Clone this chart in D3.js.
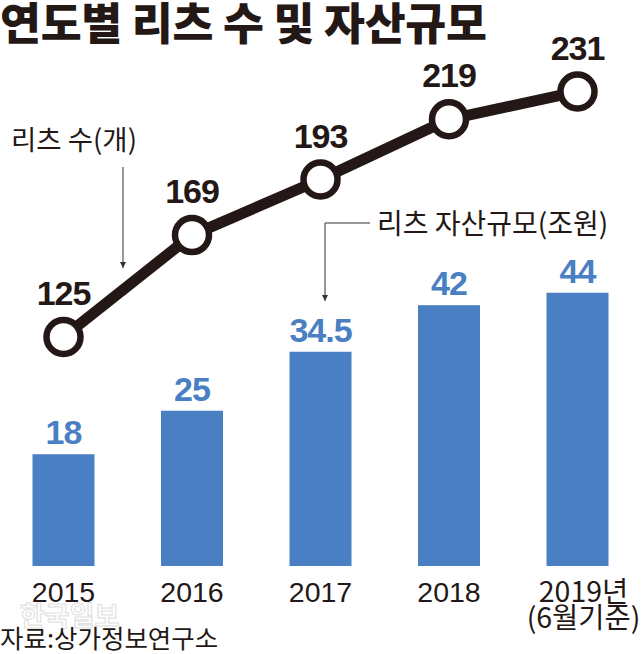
<!DOCTYPE html>
<html><head><meta charset="utf-8">
<script src="https://cdn.jsdelivr.net/npm/d3@7"></script>
<style>
html,body{margin:0;padding:0;background:#fff;}
svg{display:block;}
</style></head>
<body>
<svg id="chart" width="641" height="654"></svg>
<script>
const years = ["2015","2016","2017","2018","2019"];
const yearLabels = [["2015"],["2016"],["2017"],["2018"],["2019년","(6월기준)"]];
const reitCounts = [125, 169, 193, 219, 231];
const assetSizes = [18, 25, 34.5, 42, 44];
const assetLabels = ["18","25","34.5","42","44"];
const title = "연도별 리츠 수 및 자산규모";
const countLabel = "리츠 수(개)";
const assetLabel = "리츠 자산규모(조원)";
const source = "자료:상가정보연구소";
const watermark = "한국일보";

const W = 641, H = 654;
const dark = "#231815", blue = "#4a7fc3";
const kr = "'Noto Sans CJK KR','Noto Sans',sans-serif";
const num = "'Liberation Sans',Arial,sans-serif";

const svg = d3.select("#chart");

const x = d3.scalePoint().domain(years).range([63.5, 577.5]);
const yBar = d3.scaleLinear().domain([0, 50]).range([566, 255.5]);
const yLine = d3.scaleLinear().domain([0, 250]).range([626.5, 47.5]);
const barW = 62;

// title
svg.append("text").attr("x", 0).attr("y", 40)
  .attr("font-family", kr).attr("font-weight", 900).attr("font-size", 44.5)
  .attr("fill", dark).attr("letter-spacing", -0.3).text(title);

// bars
svg.append("g").selectAll("rect").data(years).join("rect")
  .attr("x", d => x(d) - barW/2)
  .attr("y", (d,i) => yBar(assetSizes[i]))
  .attr("width", barW)
  .attr("height", (d,i) => yBar(0) - yBar(assetSizes[i]))
  .attr("fill", blue);

svg.append("g").selectAll("text").data(years).join("text")
  .attr("x", d => x(d))
  .attr("y", (d,i) => yBar(assetSizes[i]) - 10)
  .attr("text-anchor", "middle")
  .attr("font-family", num).attr("font-weight", 700).attr("font-size", 34)
  .attr("letter-spacing", -1)
  .attr("fill", blue)
  .text((d,i) => assetLabels[i]);

// line
const line = d3.line().x((d,i) => x(years[i])).y(d => yLine(d));
svg.append("path").datum(reitCounts).attr("d", line)
  .attr("fill", "none").attr("stroke", dark).attr("stroke-width", 11)
  .attr("stroke-linejoin", "round");

svg.append("g").selectAll("circle").data(reitCounts).join("circle")
  .attr("cx", (d,i) => x(years[i])).attr("cy", d => yLine(d)).attr("r", 17)
  .attr("fill", "#fff").attr("stroke", dark).attr("stroke-width", 6.5);

svg.append("g").selectAll("text").data(reitCounts).join("text")
  .attr("x", (d,i) => x(years[i]))
  .attr("y", d => yLine(d) - 32)
  .attr("text-anchor", "middle")
  .attr("font-family", num).attr("font-weight", 700).attr("font-size", 34)
  .attr("letter-spacing", -1)
  .attr("fill", dark)
  .text(d => d);

// annotations
const defs = svg.append("defs");
defs.append("marker").attr("id", "arr").attr("viewBox", "0 0 10 10")
  .attr("refX", 10).attr("refY", 5).attr("markerWidth", 6).attr("markerHeight", 6)
  .attr("orient", "auto").attr("markerUnits", "userSpaceOnUse")
  .append("path").attr("d", "M0,0 L10,5 L0,10 Z").attr("fill", "#333");

svg.append("text").attr("x", 11).attr("y", 150)
  .attr("font-family", kr).attr("font-size", 27.5).attr("fill", dark).text(countLabel);
svg.append("line").attr("x1", 123).attr("y1", 167).attr("x2", 123).attr("y2", 268)
  .attr("stroke", "#333").attr("stroke-width", 1).attr("marker-end", "url(#arr)");

svg.append("text").attr("x", 377).attr("y", 234)
  .attr("font-family", kr).attr("font-size", 28).attr("fill", dark).text(assetLabel);
svg.append("path").attr("d", "M370,223 H325 V301")
  .attr("fill", "none").attr("stroke", "#333").attr("stroke-width", 1).attr("marker-end", "url(#arr)");

// watermark
svg.append("text").attr("x", 20).attr("y", 626)
  .attr("font-family", kr).attr("font-weight", 700).attr("font-size", 27)
  .attr("fill", "none").attr("stroke", "#e2e2e2").attr("stroke-width", 1.2).text(watermark);

// x labels
const xl = svg.append("g").selectAll("text").data(years).join("text")
  .attr("x", (d,i) => i === 4 ? x(d) + 6 : x(d))
  .attr("y", 602)
  .attr("text-anchor", "middle")
  .attr("font-family", num).attr("font-size", 28.5).attr("fill", dark);
xl.each(function(d,i){
  const t = d3.select(this);
  yearLabels[i].forEach((s,j) => {
    t.append("tspan").attr("x", i === 4 ? x(d) + 6 : x(d)).attr("dy", j === 0 ? 0 : 26)
      .attr("font-family", j === 0 && i !== 4 ? num : kr).text(s);
  });
});

// source
svg.append("text").attr("x", 0).attr("y", 648)
  .attr("font-family", kr).attr("font-size", 25.5).attr("fill", dark).text(source);
</script>
</body></html>
